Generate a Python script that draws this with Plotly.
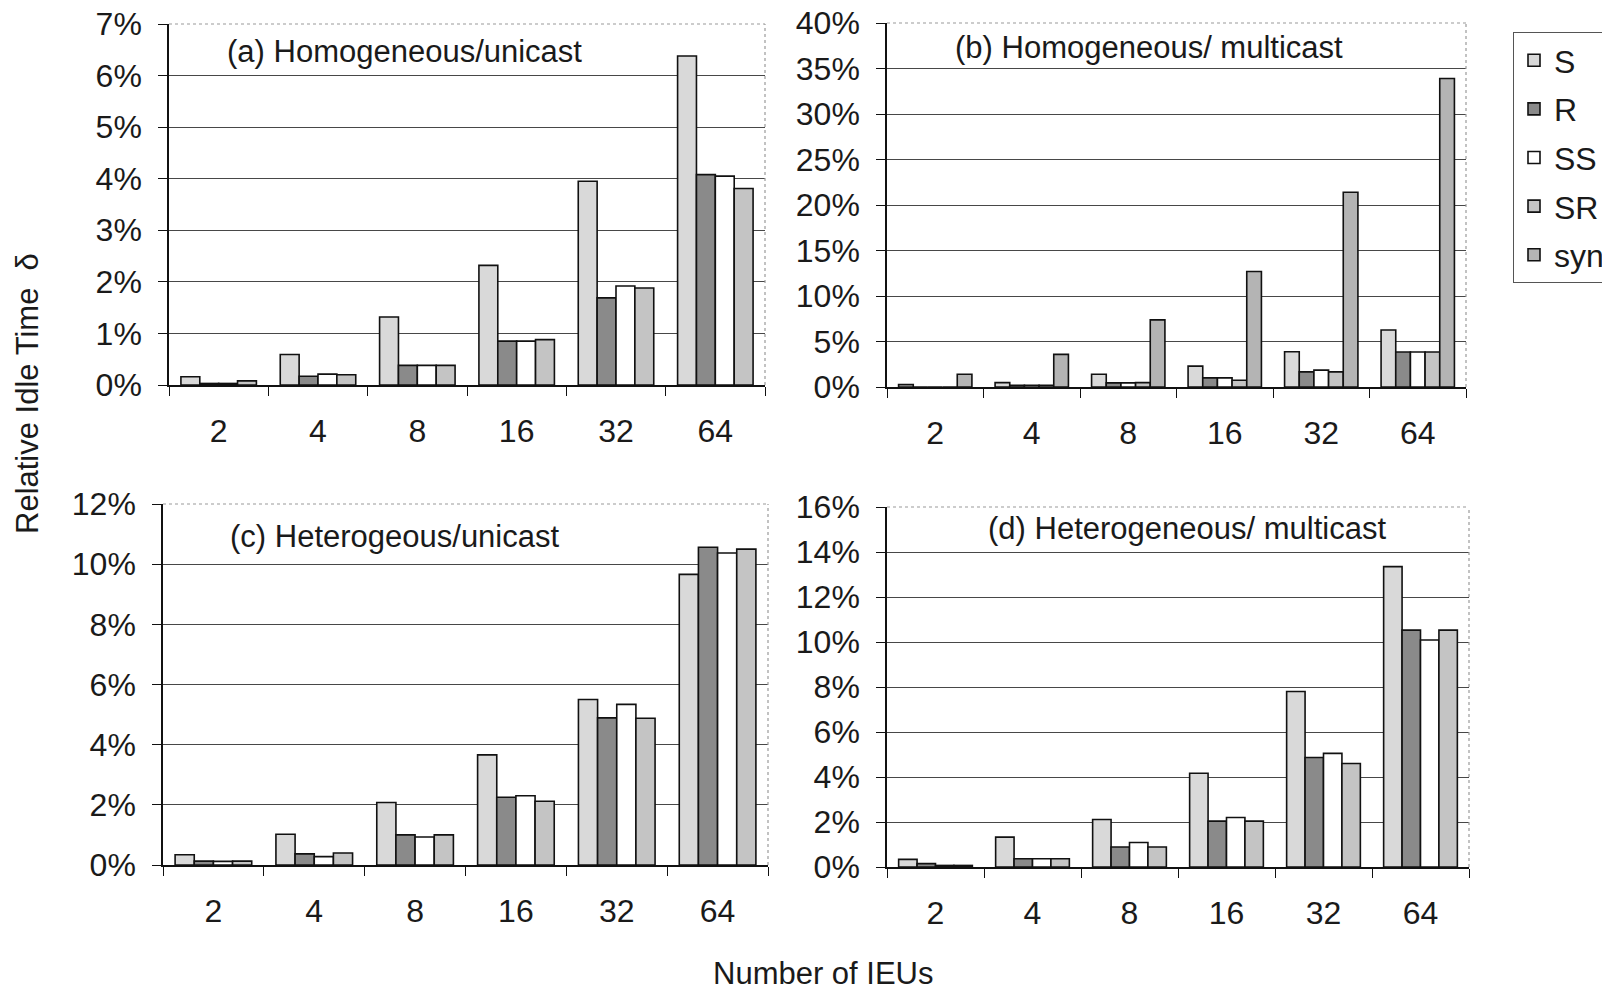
import plotly.graph_objects as go

W, H = 1602, 990
FONT = "Liberation Sans, Arial, sans-serif"

categories = ["2", "4", "8", "16", "32", "64"]
series_names = ["S", "R", "SS", "SR", "syn"]
series_colors = {"S": "#d9d9d9", "R": "#8a8a8a", "SS": "#ffffff", "SR": "#c4c4c4", "syn": "#b4b4b4"}

# (a) Homogeneous/unicast (values in %)
a_S = [0.16, 0.59, 1.32, 2.32, 3.95, 6.38]
a_R = [0.03, 0.17, 0.38, 0.85, 1.69, 4.08]
a_SS = [0.03, 0.21, 0.38, 0.85, 1.92, 4.05]
a_SR = [0.08, 0.20, 0.38, 0.88, 1.88, 3.81]

# (b) Homogeneous/ multicast
b_S = [0.26, 0.48, 1.40, 2.29, 3.87, 6.27]
b_R = [0.0, 0.20, 0.45, 1.00, 1.66, 3.84]
b_SS = [0.0, 0.20, 0.45, 1.00, 1.85, 3.84]
b_SR = [0.0, 0.20, 0.48, 0.74, 1.66, 3.84]
b_syn = [1.40, 3.58, 7.38, 12.7, 21.4, 33.9]

# (c) Heterogeous/unicast
c_S = [0.34, 1.02, 2.08, 3.66, 5.50, 9.66]
c_R = [0.13, 0.37, 1.00, 2.25, 4.89, 10.56]
c_SS = [0.12, 0.28, 0.93, 2.30, 5.34, 10.37]
c_SR = [0.13, 0.40, 1.00, 2.12, 4.88, 10.50]

# (d) Heterogeneous/ multicast
d_S = [0.34, 1.33, 2.11, 4.17, 7.80, 13.35]
d_R = [0.15, 0.37, 0.89, 2.04, 4.87, 10.53]
d_SS = [0.07, 0.37, 1.09, 2.20, 5.05, 10.09]
d_SR = [0.07, 0.37, 0.89, 2.04, 4.60, 10.53]

panel_titles = ["(a) Homogeneous/unicast", "(b) Homogeneous/ multicast",
                "(c) Heterogeous/unicast", "(d) Heterogeneous/ multicast"]
y_max = [7, 40, 12, 16]
y_step = [1, 5, 2, 2]

panels = [
    {"S": a_S, "R": a_R, "SS": a_SS, "SR": a_SR},
    {"S": b_S, "R": b_R, "SS": b_SS, "SR": b_SR, "syn": b_syn},
    {"S": c_S, "R": c_R, "SS": c_SS, "SR": c_SR},
    {"S": d_S, "R": d_R, "SS": d_SS, "SR": d_SR},
]

# plot-area rectangles in pixels: (left, right, top, bottom)
rects = [(169, 765, 24, 385), (887, 1466, 23, 387), (163, 768, 504, 865), (887, 1469, 507, 867)]
title_pos = [(225, 51), (953, 48), (228, 536), (986, 528)]

fig = go.Figure()
shown = set()
for i, data in enumerate(panels):
    ax = "" if i == 0 else str(i + 1)
    for name in series_names:
        if name not in data:
            continue
        fig.add_trace(go.Bar(
            x=categories, y=data[name], name=name,
            xaxis="x" + ax, yaxis="y" + ax,
            legendgroup=name, showlegend=name not in shown,
            marker=dict(color=series_colors[name], line=dict(color="#111111", width=1.6)),
        ))
        shown.add(name)

layout = dict(
    width=W, height=H,
    margin=dict(l=0, r=0, t=0, b=0, autoexpand=False),
    paper_bgcolor="white", plot_bgcolor="white",
    barmode="group", bargap=0.24, bargroupgap=0,
    font=dict(family=FONT, size=32, color="#1a1a1a"),
    showlegend=True,
    legend=dict(x=1513 / W, y=1 - 32 / H, xanchor="left", yanchor="top",
                bordercolor="#555555", borderwidth=1, bgcolor="white",
                font=dict(family=FONT, size=32, color="#1a1a1a"),
                traceorder="grouped", tracegroupgap=4, itemwidth=30),
)
shapes = []
annotations = []
for i, (l, r, t, b) in enumerate(rects):
    ax = "" if i == 0 else str(i + 1)
    layout["xaxis" + ax] = dict(
        domain=[l / W, r / W], anchor="y" + ax, type="category",
        showline=True, linecolor="#111111", linewidth=1.5,
        ticks="outside", tickson="boundaries", ticklen=9, tickcolor="#111111",
        showgrid=False, ticklabelstandoff=17,
        tickfont=dict(family=FONT, size=32, color="#1a1a1a"),
    )
    layout["yaxis" + ax] = dict(
        domain=[1 - b / H, 1 - t / H], anchor="x" + ax,
        range=[0, y_max[i]], dtick=y_step[i], tick0=0, ticksuffix="%",
        showline=True, linecolor="#111111", linewidth=1.5,
        ticks="outside", ticklen=9, tickcolor="#111111",
        showgrid=True, gridcolor="#484848", gridwidth=1, zeroline=False,
        ticklabelstandoff=10,
        tickfont=dict(family=FONT, size=32, color="#1a1a1a"),
    )
    # dotted plot-area border on top and right
    shapes.append(dict(type="line", xref="x" + ax + " domain", yref="y" + ax + " domain",
                       x0=0, x1=1, y0=1, y1=1, line=dict(color="#9a9a9a", width=1.2, dash="dot")))
    shapes.append(dict(type="line", xref="x" + ax + " domain", yref="y" + ax + " domain",
                       x0=1, x1=1, y0=0, y1=1, line=dict(color="#9a9a9a", width=1.2, dash="dot")))
    tx, ty = title_pos[i]
    annotations.append(dict(text=panel_titles[i], x=tx / W, y=1 - ty / H, xref="paper", yref="paper",
                            xanchor="left", yanchor="middle", showarrow=False,
                            font=dict(family=FONT, size=31, color="#1a1a1a")))

annotations.append(dict(text="Number of IEUs", x=823 / W, y=1 - 973 / H, xref="paper", yref="paper",
                        xanchor="center", yanchor="middle", showarrow=False,
                        font=dict(family=FONT, size=31, color="#1a1a1a")))
annotations.append(dict(text="Relative Idle Time  δ", x=27 / W, y=1 - 394 / H, xref="paper", yref="paper",
                        xanchor="center", yanchor="middle", showarrow=False, textangle=-90,
                        font=dict(family=FONT, size=31, color="#1a1a1a")))
layout["shapes"] = shapes
layout["annotations"] = annotations
fig.update_layout(**layout)
fig.write_html("out.html", config={"displayModeBar": False},
               post_script="document.body.style.margin='0';document.body.style.overflow='hidden';")
